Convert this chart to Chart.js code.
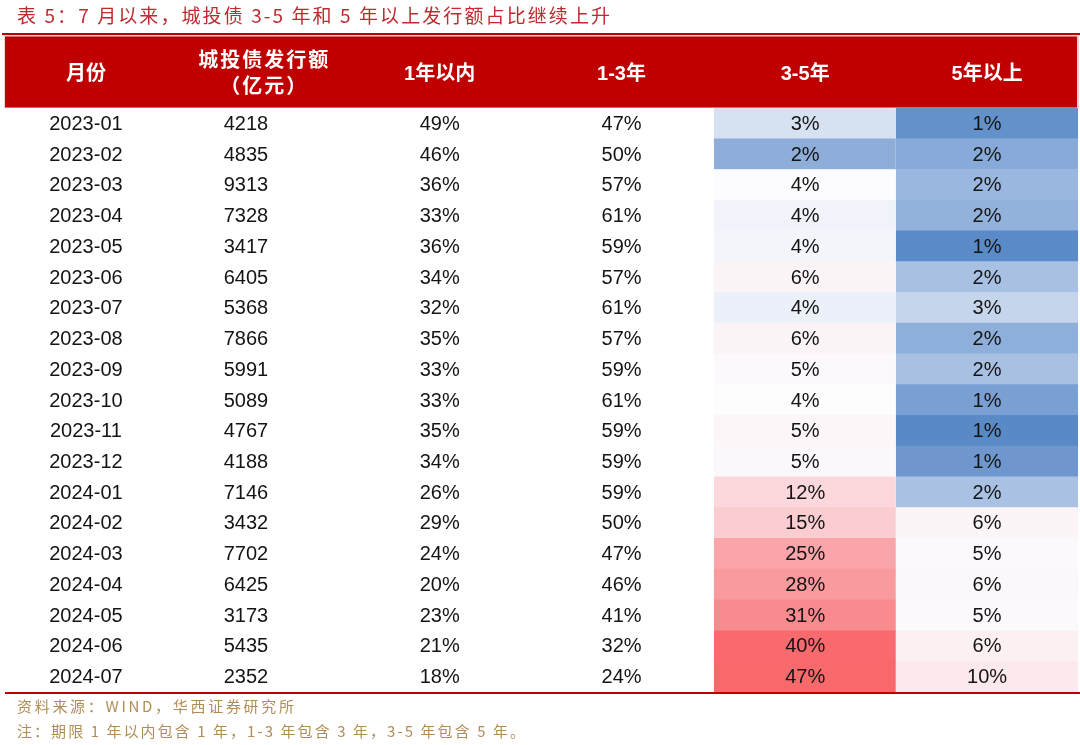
<!DOCTYPE html>
<html>
<head>
<meta charset="utf-8">
<script src="https://cdn.jsdelivr.net/npm/chart.js@4.4.1/dist/chart.umd.min.js"></script>
<style>
  html, body { margin: 0; padding: 0; background: #ffffff; }
  #wrap { width: 1080px; height: 745px; position: relative; }
</style>
</head>
<body>
<div id="wrap"><canvas id="c"></canvas></div>
<script>
// ---- data ----
const titleText = '表 5：7 月以来，城投债 3-5 年和 5 年以上发行额占比继续上升';
const headerLabels = ['月份', '城投债发行额', '1年以内', '1-3年', '3-5年', '5年以上'];
const headerSub = '（亿元）';
const months = ['2023-01','2023-02','2023-03','2023-04','2023-05','2023-06','2023-07','2023-08','2023-09','2023-10','2023-11','2023-12','2024-01','2024-02','2024-03','2024-04','2024-05','2024-06','2024-07'];
const issuance = [4218,4835,9313,7328,3417,6405,5368,7866,5991,5089,4767,4188,7146,3432,7702,6425,3173,5435,2352];
const pctUnder1 = [49,46,36,33,36,34,32,35,33,33,35,34,26,29,24,20,23,21,18];
const pct1to3 = [47,50,57,61,59,57,61,57,59,61,59,59,59,50,47,46,41,32,24];
const pct3to5 = [3,2,4,4,4,6,4,6,5,4,5,5,12,15,25,28,31,40,47];
const pctOver5 = [1,2,2,2,1,2,3,2,2,1,1,1,2,6,5,6,5,6,10];
const sourceText = '资料来源：WIND，华西证券研究所';
const noteText = '注：期限 1 年以内包含 1 年，1-3 年包含 3 年，3-5 年包含 5 年。';

// ---- styles (cell colour scale) ----
const colors3to5 = ['#D6E2F2','#8EADD9','#FCFCFE','#F0F4FA','#F3F5FB','#FBF4F6','#EBF0F9','#FBF4F6','#FCF8FB','#FDFDFE','#FCF6F9','#FBF8FC','#FCD8DD','#FBCDD1','#F9A5A9','#F99A9E','#F98B8F','#F86A6E','#F8696B'];
const colorsOver5 = ['#6392CA','#88AADA','#9AB8DF','#92B2DC','#5B8AC8','#A8C1E3','#C5D5EC','#8EAFDA','#A8C1E3','#7AA0D3','#5A8AC6','#6F97CD','#A9C2E3','#FCF5F7','#FCF9FC','#FCF7FA','#FCF9FC','#FCF0F2','#FCE9EC'];
const RED = '#C00000';
const TEXT = '#141414';
const NUM_FONT = '20px "Liberation Sans", Arial, sans-serif';
const HEAD_FONT = 'bold 20px "Liberation Sans", "Noto Sans CJK SC", sans-serif';
const textAnchors = [0.545, 1.425, 2.49, 3.49, 4.5, 5.5];
const headAnchors = [0.545, 1.52, 2.49, 3.49, 4.5, 5.5];

function fitText(ctx, text, x, y, width) {
  ctx.letterSpacing = '0px';
  const w = ctx.measureText(text).width;
  const n = [...text].length;
  const sp = n > 1 ? (width - w) / (n - 1) : 0;
  ctx.letterSpacing = sp + 'px';
  ctx.textAlign = 'left';
  ctx.fillText(text, x, y);
  ctx.letterSpacing = '0px';
}

const tablePlugin = {
  id: 'tableText',
  beforeDatasetsDraw(chart) {
    const ctx = chart.ctx, a = chart.chartArea;
    ctx.save();
    // title
    ctx.fillStyle = '#BE2A2E';
    ctx.font = '19px "Noto Sans CJK SC", sans-serif';
    ctx.textBaseline = 'middle';
    fitText(ctx, titleText, 17, 16, 593);
    // top rule and header band
    ctx.fillStyle = RED;
    ctx.fillRect(2, 33, 1078, 2);
    ctx.fillStyle = '#F3D0D0';
    ctx.fillRect(a.left - 1, 35, a.right - a.left + 2, a.top - 35);
    ctx.fillStyle = RED;
    ctx.fillRect(a.left, 36.5, a.right - a.left - 1, a.top - 37);
    ctx.restore();
  },
  afterDatasetsDraw(chart) {
    const ctx = chart.ctx, a = chart.chartArea;
    const xs = chart.scales.x, ys = chart.scales.y;
    ctx.save();
    // header labels
    ctx.fillStyle = '#FFFFFF';
    ctx.font = HEAD_FONT;
    ctx.textBaseline = 'middle';
    ctx.textAlign = 'center';
    headerLabels.forEach((h, j) => {
      const x = xs.getPixelForValue(headAnchors[j]);
      if (j === 1) {
        ctx.letterSpacing = '2px';
        ctx.fillText(h, x + 1, 61);
        ctx.fillText(headerSub, x + 1, 87);
        ctx.letterSpacing = '0px';
      } else {
        ctx.fillText(h, x, 74);
      }
    });
    // body
    ctx.fillStyle = TEXT;
    ctx.font = NUM_FONT;
    months.forEach((m, i) => {
      const y = ys.getPixelForValue(i) + 1;
      const cells = [m, String(issuance[i]), pctUnder1[i] + '%', pct1to3[i] + '%', pct3to5[i] + '%', pctOver5[i] + '%'];
      cells.forEach((t, j) => {
        ctx.fillText(t, xs.getPixelForValue(textAnchors[j]), y);
      });
    });
    // bottom rule
    ctx.fillStyle = RED;
    ctx.fillRect(a.left, a.bottom, 1080 - a.left, 2);
    // footer
    ctx.fillStyle = '#B08D57';
    ctx.font = '15px "Noto Sans CJK SC", sans-serif';
    fitText(ctx, sourceText, 17, 706, 277);
    fitText(ctx, noteText, 17, 731, 508);
    ctx.restore();
  }
};

new Chart(document.getElementById('c'), {
  type: 'bar',
  data: {
    labels: months,
    datasets: [
      {
        label: '3-5年',
        data: pct3to5.map(() => [4, 4.996]),
        backgroundColor: colors3to5,
        grouped: false,
        barPercentage: 1,
        categoryPercentage: 1,
        borderWidth: 0
      },
      {
        label: '5年以上',
        data: pctOver5.map(() => [5, 6]),
        backgroundColor: colorsOver5,
        grouped: false,
        barPercentage: 1,
        categoryPercentage: 1,
        borderWidth: 0
      }
    ]
  },
  options: {
    indexAxis: 'y',
    responsive: true,
    maintainAspectRatio: false,
    animation: false,
    layout: { padding: { top: 108, bottom: 53, left: 5, right: 2 } },
    scales: {
      x: { type: 'linear', min: 0.1, max: 6, display: false },
      y: { type: 'category', display: false, offset: true, grid: { display: false } }
    },
    plugins: { legend: { display: false }, tooltip: { enabled: false }, title: { display: false } }
  },
  plugins: [tablePlugin]
});
</script>
</body>
</html>
